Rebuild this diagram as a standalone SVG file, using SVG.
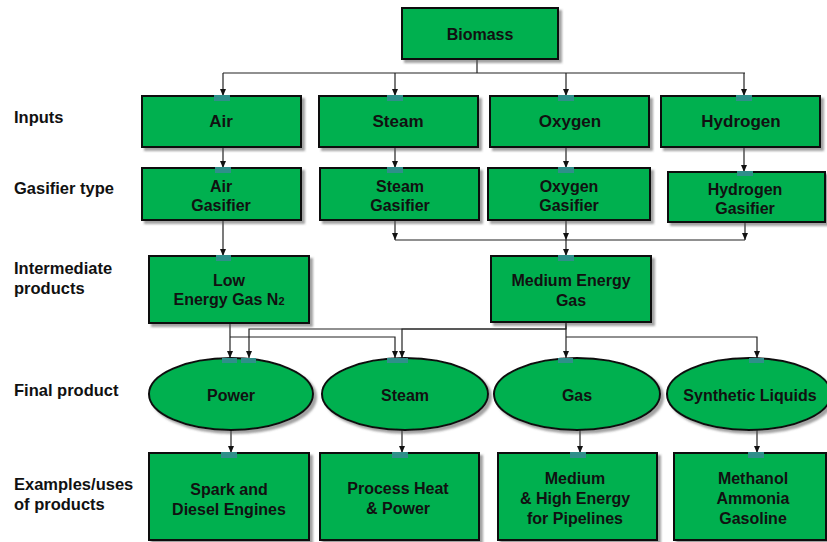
<svg xmlns="http://www.w3.org/2000/svg" width="827" height="542" viewBox="0 0 827 542">
<defs>
<filter id="sh" x="-10%" y="-10%" width="130%" height="140%">
<feDropShadow dx="3" dy="3" stdDeviation="1.2" flood-color="#555" flood-opacity="0.55"/>
</filter>
<marker id="ar" markerWidth="7" markerHeight="6" refX="7" refY="3" orient="auto" markerUnits="userSpaceOnUse">
<path d="M0,0 L7,3 L0,6 z" fill="#111"/>
</marker>
<style>
.bx{fill:#00b050;stroke:#111;stroke-width:2;filter:url(#sh)}
.t{font-family:"Liberation Sans",Arial,sans-serif;font-weight:bold;font-size:16px;fill:#111;text-anchor:middle}
.t17{font-size:17px}
.lb{font-family:"Liberation Sans",Arial,sans-serif;font-weight:bold;font-size:16.5px;fill:#111}
.c{fill:none;stroke:#222;stroke-width:1.2}
.ca{fill:none;stroke:#222;stroke-width:1.2;marker-end:url(#ar)}
.p{fill:#2f8f8a}
</style>
</defs>
<rect width="827" height="542" fill="#fff"/>

<g id="labels">
<text class="lb" x="14" y="123">Inputs</text>
<text class="lb" x="14" y="194">Gasifier type</text>
<text class="lb" x="14" y="274">Intermediate</text>
<text class="lb" x="14" y="294">products</text>
<text class="lb" x="14" y="396">Final product</text>
<text class="lb" x="14" y="490">Examples/uses</text>
<text class="lb" x="14" y="510">of products</text>
</g>

<g id="connectors">
<path class="c" d="M477,59 V73 M223,73 H745"/>
<path class="ca" d="M223,73 V96"/>
<path class="ca" d="M395,73 V96"/>
<path class="ca" d="M566,73 V96"/>
<path class="ca" d="M744,73 V96"/>
<path class="ca" d="M223,147 V168"/>
<path class="ca" d="M395,147 V168"/>
<path class="ca" d="M566,147 V168"/>
<path class="ca" d="M744,147 V172"/>
<path class="ca" d="M223,220 V256"/>
<path class="ca" d="M395,220 V240"/>
<path class="ca" d="M566,220 V240"/>
<path class="ca" d="M745,222 V240"/>
<path class="c" d="M395,240 H745"/>
<path class="ca" d="M566,240 V256"/>
<path class="ca" d="M230,323 V358"/>
<path class="ca" d="M230,337 H395 V358"/>
<path class="ca" d="M566,322 V329 H249 V358"/>
<path class="ca" d="M566,329 H402 V358"/>
<path class="ca" d="M566,322 V358"/>
<path class="ca" d="M566,337 H757 V358"/>
<path class="ca" d="M231,430 V453"/>
<path class="ca" d="M402,430 V453"/>
<path class="ca" d="M580,430 V453"/>
<path class="ca" d="M757,430 V453"/>
</g>

<g id="biomass">
<rect class="bx" x="402" y="8" width="156" height="51"/>
<text class="t" x="480" y="40">Biomass</text>
</g>

<g id="in-air">
<rect class="bx" x="142" y="96" width="159" height="51"/>
<rect class="p" x="214" y="95" width="16" height="6"/>
<text class="t t17" x="221" y="127">Air</text>
</g>
<g id="in-steam">
<rect class="bx" x="319" y="96" width="159" height="51"/>
<rect class="p" x="387" y="95" width="16" height="6"/>
<text class="t t17" x="398" y="127">Steam</text>
</g>
<g id="in-oxygen">
<rect class="bx" x="490" y="96" width="159" height="51"/>
<rect class="p" x="558" y="95" width="16" height="6"/>
<text class="t t17" x="570" y="127">Oxygen</text>
</g>
<g id="in-hydrogen">
<rect class="bx" x="661" y="96" width="159" height="51"/>
<rect class="p" x="736" y="95" width="16" height="6"/>
<text class="t t17" x="741" y="127">Hydrogen</text>
</g>

<g id="gas-air">
<rect class="bx" x="142" y="168" width="159" height="52"/>
<rect class="p" x="215" y="167" width="16" height="6"/>
<text class="t" x="221" y="192">Air</text>
<text class="t" x="221" y="211">Gasifier</text>
</g>
<g id="gas-steam">
<rect class="bx" x="320" y="168" width="159" height="52"/>
<rect class="p" x="387" y="167" width="16" height="6"/>
<text class="t" x="400" y="192">Steam</text>
<text class="t" x="400" y="211">Gasifier</text>
</g>
<g id="gas-oxygen">
<rect class="bx" x="488" y="168" width="162" height="52"/>
<rect class="p" x="558" y="167" width="16" height="6"/>
<text class="t" x="569" y="192">Oxygen</text>
<text class="t" x="569" y="211">Gasifier</text>
</g>
<g id="gas-hydrogen">
<rect class="bx" x="668" y="172" width="157" height="50"/>
<rect class="p" x="737" y="171" width="16" height="5"/>
<text class="t" x="745" y="195">Hydrogen</text>
<text class="t" x="745" y="214">Gasifier</text>
</g>

<g id="low-energy">
<rect class="bx" x="149" y="256" width="160" height="67"/>
<rect class="p" x="216" y="255" width="15" height="6"/>
<text class="t" x="229" y="286">Low</text>
<text class="t" x="229" y="305">Energy Gas N<tspan font-size="11">2</tspan></text>
</g>
<g id="medium-energy">
<rect class="bx" x="491" y="256" width="160" height="66"/>
<rect class="p" x="558" y="255" width="16" height="6"/>
<text class="t" x="571" y="286">Medium Energy</text>
<text class="t" x="571" y="306">Gas</text>
</g>

<g id="fp-power">
<ellipse class="bx" cx="231" cy="394" rx="82" ry="36"/>
<rect class="p" x="222" y="358" width="15" height="5"/>
<rect class="p" x="241" y="358" width="15" height="5"/>
<text class="t" x="231" y="401">Power</text>
</g>
<g id="fp-steam">
<ellipse class="bx" cx="405" cy="394" rx="83" ry="36"/>
<rect class="p" x="387" y="358" width="21" height="5"/>
<text class="t" x="405" y="401">Steam</text>
</g>
<g id="fp-gas">
<ellipse class="bx" cx="577" cy="394" rx="83" ry="36"/>
<rect class="p" x="558" y="358" width="15" height="5"/>
<text class="t" x="577" y="401">Gas</text>
</g>
<g id="fp-synthetic">
<ellipse class="bx" cx="749" cy="394" rx="82" ry="36"/>
<rect class="p" x="749" y="358" width="15" height="5"/>
<text class="t" x="750" y="401">Synthetic Liquids</text>
</g>

<g id="use-engines">
<rect class="bx" x="149" y="453" width="160" height="87"/>
<rect class="p" x="221" y="452" width="16" height="6"/>
<text class="t" x="229" y="495">Spark and</text>
<text class="t" x="229" y="515">Diesel Engines</text>
</g>
<g id="use-heat">
<rect class="bx" x="320" y="453" width="159" height="87"/>
<rect class="p" x="392" y="452" width="16" height="6"/>
<text class="t" x="398" y="494">Process Heat</text>
<text class="t" x="398" y="514">&amp; Power</text>
</g>
<g id="use-pipelines">
<rect class="bx" x="498" y="453" width="159" height="87"/>
<rect class="p" x="570" y="452" width="16" height="6"/>
<text class="t" x="575" y="484">Medium</text>
<text class="t" x="575" y="504">&amp; High Energy</text>
<text class="t" x="575" y="524">for Pipelines</text>
</g>
<g id="use-chemicals">
<rect class="bx" x="674" y="453" width="152" height="87"/>
<rect class="p" x="748" y="452" width="16" height="6"/>
<text class="t" x="753" y="484">Methanol</text>
<text class="t" x="753" y="504">Ammonia</text>
<text class="t" x="753" y="524">Gasoline</text>
</g>
</svg>
